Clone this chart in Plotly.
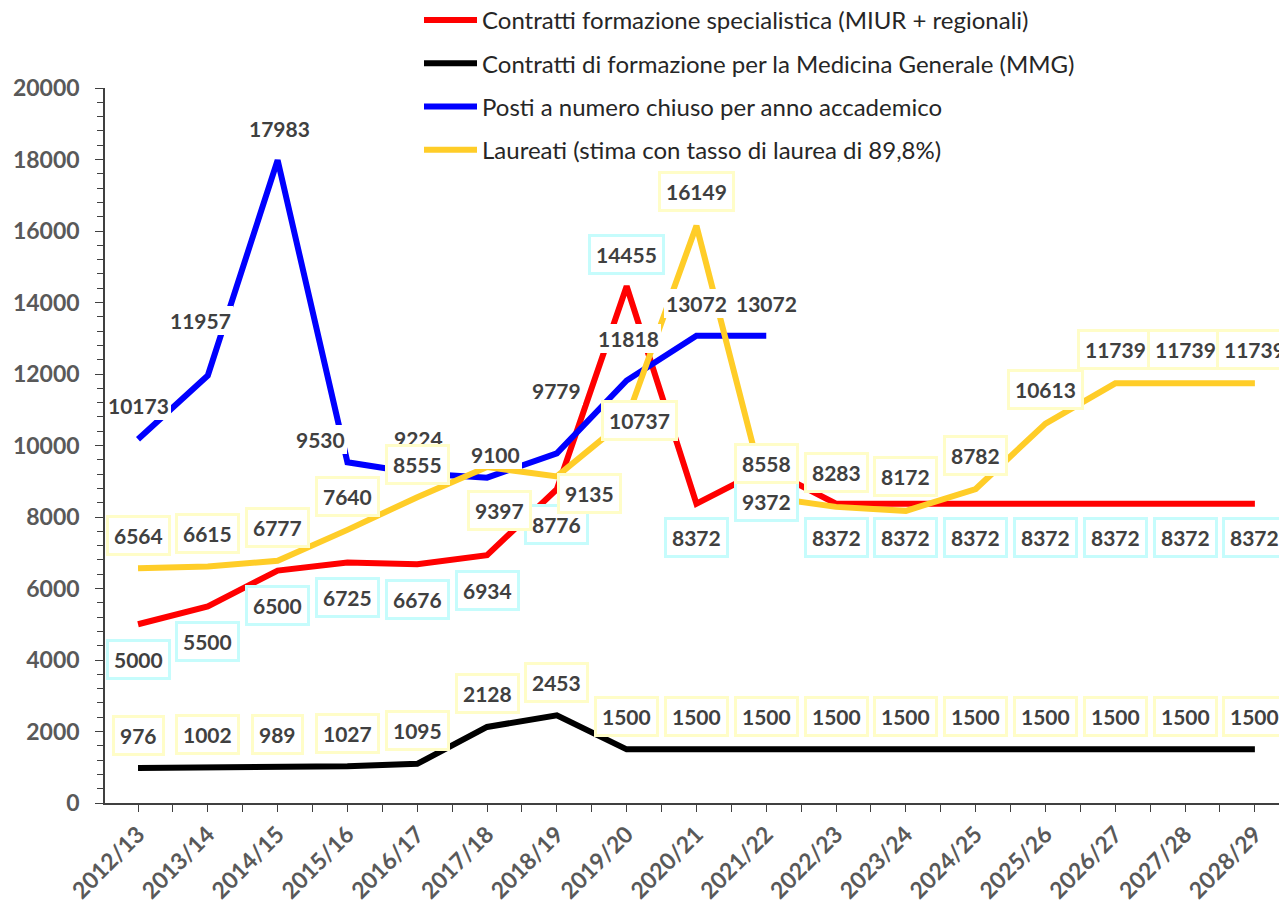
import plotly.graph_objects as go

categories = ["2012/13", "2013/14", "2014/15", "2015/16", "2016/17", "2017/18", "2018/19",
              "2019/20", "2020/21", "2021/22", "2022/23", "2023/24", "2024/25", "2025/26",
              "2026/27", "2027/28", "2028/29"]

specialistica = [5000, 5500, 6500, 6725, 6676, 6934, 8776, 14455, 8372, 9372,
                 8372, 8372, 8372, 8372, 8372, 8372, 8372]
mmg = [976, 1002, 989, 1027, 1095, 2128, 2453, 1500, 1500, 1500,
       1500, 1500, 1500, 1500, 1500, 1500, 1500]
posti = [10173, 11957, 17983, 9530, 9224, 9100, 9779, 11818, 13072, 13072]
laureati = [6564, 6615, 6777, 7640, 8555, 9397, 9135, 10737, 16149, 8558,
            8283, 8172, 8782, 10613, 11739, 11739, 11739]

names = [
    "Contratti formazione specialistica (MIUR + regionali)",
    "Contratti di formazione per la Medicina Generale (MMG)",
    "Posti a numero chiuso per anno accademico",
    "Laureati (stima con tasso di laurea di 89,8%)",
]

# label offsets in screen pixels (dx right, dy down) -- styling only
red_off = [(0, 35)] * 7 + [(0, -32)] + [(0, 34)] * 9
black_off = [(0, -33)] * 17
blue_off = [(0, -34), (-7, -55), (2, -32), (-27, -23), (1, -35), (8, -23), (0, -63),
            (2, -42), (0, -32), (0, -32)]
yellow_off = [(0, -33)] * 5 + [(12, 43), (33, 17), (13, 1)] + [(0, -34)] * 9

RED = "#FF0000"
BLACK = "#000000"
BLUE = "#0000FF"
YELLOW = "#FFCD28"
CYAN_BORDER = "#C6FCFC"
YEL_BORDER = "#FFFDC8"
LABEL_COL = "#404040"
AXIS_COL = "#595959"
FONT = "Lato"

# page has an 8px body margin: figure sized to the visible area
W, H = 1279, 894
ML, MB = 97, 99
PLOT_TOP = 80

fig = go.Figure()
series = [
    (specialistica, RED, names[0]),
    (mmg, BLACK, names[1]),
    (posti, BLUE, names[2]),
    (laureati, YELLOW, names[3]),
]
for k, (vals, col, nm) in enumerate(series):
    fig.add_trace(go.Scatter(
        x=list(range(len(vals))), y=vals, mode="lines", name=nm,
        line=dict(color=col, width=6), legendgroup=f"g{k}",
        hoverinfo="skip",
    ))

annotations = []


def add_labels(vals, offs, border, bw):
    for i, v in enumerate(vals):
        dx, dy = offs[i]
        annotations.append(dict(
            x=i, y=v, xref="x", yref="y", text=str(v), showarrow=False,
            xshift=dx, yshift=-dy,
            font=dict(family=FONT, size=21, color=LABEL_COL, weight="bold"),
            bgcolor="white", bordercolor=border, borderwidth=bw, borderpad=5 if bw else 2,
        ))


add_labels(posti, blue_off, "rgba(255,255,255,0)", 0)
add_labels(specialistica, red_off, CYAN_BORDER, 3)
add_labels(mmg, black_off, YEL_BORDER, 3)
add_labels(laureati, yellow_off, YEL_BORDER, 3)

plot_h = H - MB
plot_w = W - ML
fig.update_layout(
    width=W, height=H,
    margin=dict(l=ML, r=0, t=0, b=MB, autoexpand=False),
    paper_bgcolor="white", plot_bgcolor="white",
    showlegend=True,
    legend=dict(
        x=(411 - ML) / plot_w, y=1.0 + 10 / plot_h,
        xanchor="left", yanchor="top",
        font=dict(family=FONT, size=24, color="#262626"),
        tracegroupgap=9, bgcolor="rgba(0,0,0,0)", itemwidth=53,
    ),
    annotations=annotations,
    font=dict(family=FONT),
)

fig.update_xaxes(
    range=[-0.473, 16.46],
    tickmode="array", tickvals=list(range(len(categories))), ticktext=categories,
    tickangle=-45,
    tickfont=dict(family=FONT, size=23, color=AXIS_COL, weight="bold"),
    showline=True, linecolor="#404040", linewidth=1.5,
    ticks="outside", ticklen=7, tickcolor="#404040", tickwidth=1.2,
    minor=dict(tickmode="linear", tick0=-0.5, dtick=1, ticks="outside", ticklen=7,
               tickcolor="#404040", tickwidth=1.2, showgrid=False),
    showgrid=False, zeroline=False,
)
fig.update_yaxes(
    domain=[0, (plot_h - PLOT_TOP) / plot_h],
    range=[0, 20000], tickmode="linear", tick0=0, dtick=2000, tickformat="d",
    tickfont=dict(family=FONT, size=23, color=AXIS_COL, weight="bold"),
    showline=True, linecolor="#404040", linewidth=1.5,
    ticks="outside", ticklen=8, tickcolor="#404040", tickwidth=1.2,
    ticklabelstandoff=11,
    minor=dict(tickmode="linear", tick0=0, dtick=400, ticks="outside", ticklen=6,
               tickcolor="#404040", tickwidth=1.2, showgrid=False),
    showgrid=False, zeroline=False,
)

fig.write_html("out.html")
